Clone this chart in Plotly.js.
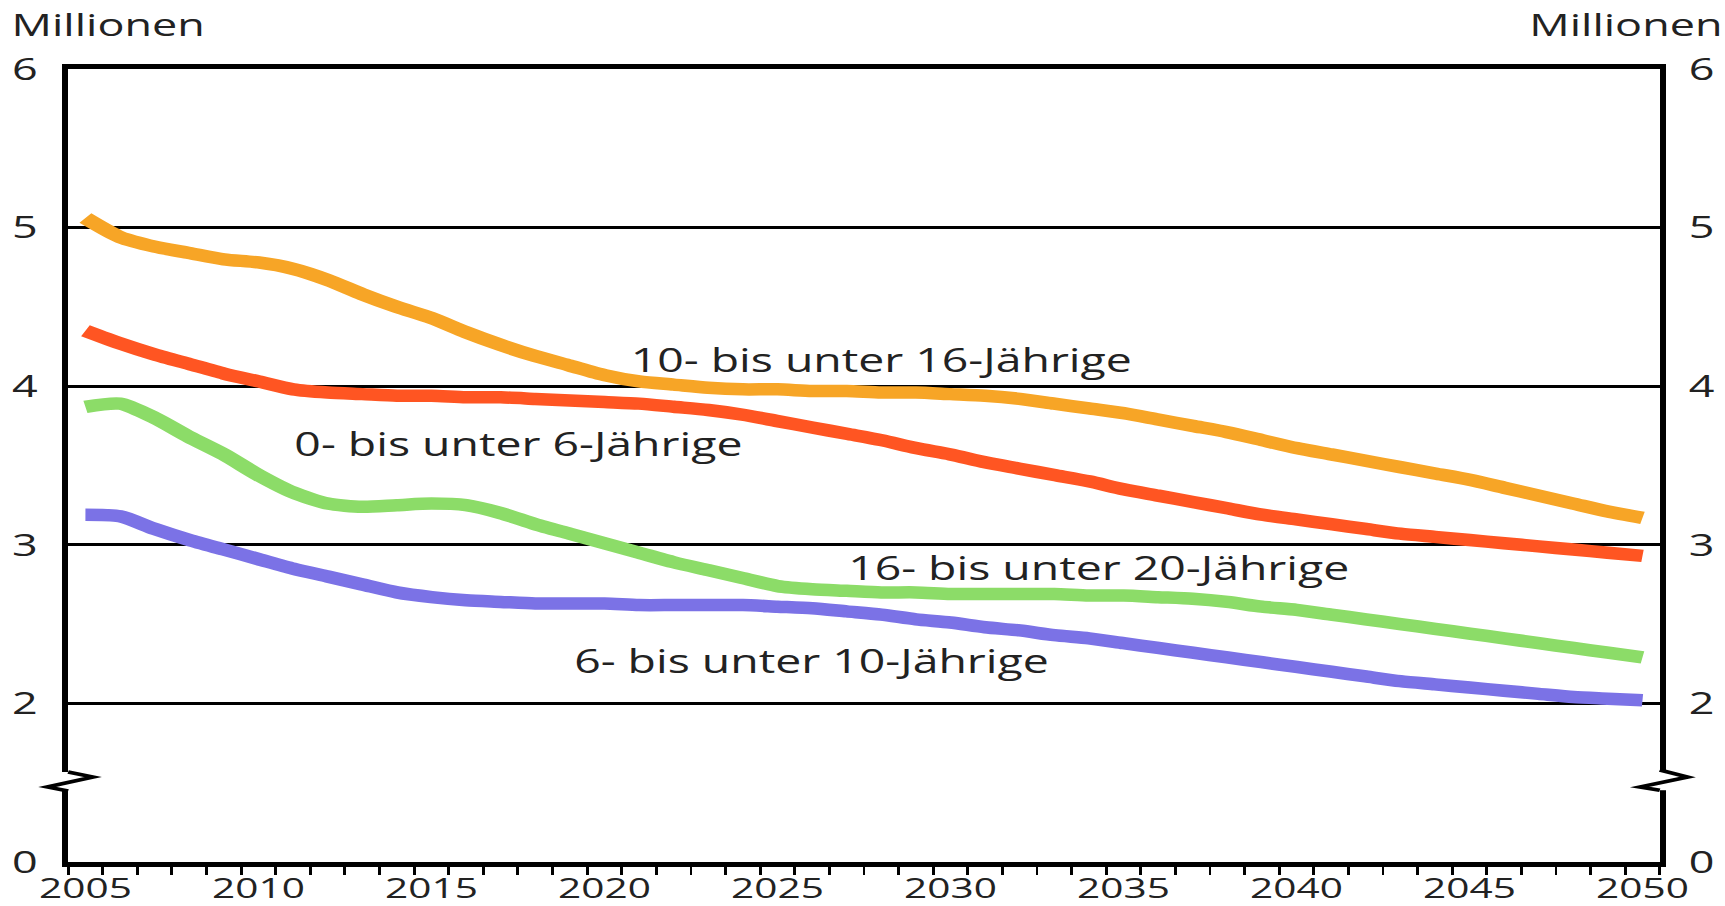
<!DOCTYPE html>
<html>
<head>
<meta charset="utf-8">
<script src="https://cdn.plot.ly/plotly-3.0.1.min.js"></script>
<style>
  html, body { margin: 0; padding: 0; background: #ffffff; overflow: hidden; }
  #chart { width: 1190px; height: 906px; transform: scaleX(1.4496); transform-origin: 0 0; }
</style>
</head>
<body>
<div id="chart"></div>
<script>
// ---- data (Millionen) ----
const years = [2005,2006,2007,2008,2009,2010,2011,2012,2013,2014,
               2015,2016,2017,2018,2019,2020,2021,2022,2023,2024,
               2025,2026,2027,2028,2029,2030,2031,2032,2033,2034,
               2035,2036,2037,2038,2039,2040,2041,2042,2043,2044,
               2045,2046,2047,2048,2049,2050];

const age10to16 = [5.06,4.94,4.88,4.84,4.80,4.78,4.74,4.67,4.58,4.50,
                   4.43,4.34,4.26,4.19,4.13,4.07,4.03,4.01,3.99,3.98,
                   3.98,3.97,3.97,3.96,3.96,3.95,3.94,3.92,3.89,3.86,
                   3.83,3.79,3.75,3.71,3.66,3.61,3.57,3.53,3.49,3.45,
                   3.41,3.36,3.31,3.26,3.21,3.17];

const age0to6 = [4.35,4.27,4.20,4.14,4.08,4.03,3.98,3.96,3.95,3.94,
                 3.94,3.93,3.93,3.92,3.91,3.90,3.89,3.87,3.85,3.82,
                 3.78,3.74,3.70,3.66,3.61,3.57,3.52,3.48,3.44,3.40,
                 3.35,3.31,3.27,3.23,3.19,3.16,3.13,3.10,3.07,3.05,
                 3.03,3.01,2.99,2.97,2.95,2.93];

const age16to20 = [3.87,3.89,3.80,3.68,3.57,3.44,3.33,3.26,3.24,3.25,
                   3.26,3.25,3.20,3.13,3.07,3.01,2.95,2.89,2.84,2.79,
                   2.74,2.72,2.71,2.70,2.70,2.69,2.69,2.69,2.69,2.68,
                   2.68,2.67,2.66,2.64,2.61,2.59,2.56,2.53,2.50,2.47,
                   2.44,2.41,2.38,2.35,2.32,2.29];

const age6to10 = [3.19,3.18,3.10,3.03,2.97,2.91,2.85,2.80,2.75,2.70,
                  2.67,2.65,2.64,2.63,2.63,2.63,2.62,2.62,2.62,2.62,
                  2.61,2.60,2.58,2.56,2.53,2.51,2.48,2.46,2.43,2.41,
                  2.38,2.35,2.32,2.29,2.26,2.23,2.20,2.17,2.14,2.12,
                  2.10,2.08,2.06,2.04,2.03,2.02];

const seriesNames = ['10- bis unter 16-Jährige','0- bis unter 6-Jährige',
                     '16- bis unter 20-Jährige','6- bis unter 10-Jährige'];
const seriesColors = ['#F7A526','#FF5522','#8CDC68','#7B72E6'];

const yTickValues = [0, 2, 3, 4, 5, 6];
const xTickYears = [2005,2010,2015,2020,2025,2030,2035,2040,2045,2050];
const unitLabel = 'Millionen';

// label anchor points (year, value) for the series labels
const labelYears  = [2028.0, 2017.5, 2034.3, 2026.0];
const labelValues = [4.17, 3.64, 2.86, 2.27];

// broken axis: 0..2 compressed into one unit
function brk(v) { return v >= 2 ? v - 1 : v * 0.5; }

const FONT = '"Open Sans", "Noto Sans", sans-serif';
const TXT = '#222222';

const allSeries = [age10to16, age0to6, age16to20, age6to10];
const traces = allSeries.map((vals, i) => ({
  type: 'scatter', mode: 'lines',
  x: years, y: vals.map(brk),
  name: seriesNames[i],
  yaxis: i === 3 ? 'y2' : 'y',
  line: { color: seriesColors[i], width: 12.5, shape: 'spline', smoothing: 0.7 },
  hoverinfo: 'x+name'
}));

const tickPos = yTickValues.map(brk);
const tickTxt = yTickValues.map(String);

const annotations = seriesNames.map((t, i) => ({
  x: labelYears[i], y: brk(labelValues[i]), xref: 'x', yref: 'y',
  text: t, showarrow: false, xanchor: 'center', yanchor: 'middle',
  font: { family: FONT, size: 32, color: TXT }
}));
annotations.push({
  x: -0.037, y: 1.057, xref: 'paper', yref: 'paper', text: unitLabel,
  showarrow: false, xanchor: 'left', yanchor: 'middle',
  font: { family: FONT, size: 31, color: TXT }
});
annotations.push({
  x: 1.041, y: 1.057, xref: 'paper', yref: 'paper', text: unitLabel,
  showarrow: false, xanchor: 'right', yanchor: 'middle',
  font: { family: FONT, size: 31, color: TXT }
});

// axis-break marks (paper coordinates)
const shapes = [
  { type: 'rect', xref: 'paper', yref: 'paper', x0: -0.005, x1: 0.005, y0: 0.0895, y1: 0.1135,
    fillcolor: '#ffffff', line: { width: 0 }, layer: 'above' },
  { type: 'rect', xref: 'paper', yref: 'paper', x0: 0.995, x1: 1.005, y0: 0.0905, y1: 0.116,
    fillcolor: '#ffffff', line: { width: 0 }, layer: 'above' },
  { type: 'path', xref: 'paper', yref: 'paper', layer: 'above',
    path: 'M 0,0.1135 L 0.0157,0.1072 L -0.0132,0.0946 L 0,0.0895',
    line: { color: '#000000', width: 3.5 } },
  { type: 'path', xref: 'paper', yref: 'paper', layer: 'above',
    path: 'M 1,0.116 L 1.0176,0.1072 L 0.9874,0.0946 L 1,0.0905',
    line: { color: '#000000', width: 3.5 } }
];

const layout = {
  width: 1190, height: 906,
  margin: { l: 47, r: 45, t: 69, b: 44, pad: 0 },
  paper_bgcolor: '#ffffff', plot_bgcolor: '#ffffff',
  showlegend: false,
  font: { family: FONT, size: 31, color: TXT },
  xaxis: {
    range: [2004.5, 2050.5], tickmode: 'array', tickvals: xTickYears,
    ticktext: xTickYears.map(String), ticks: '', ticklabelstandoff: -3,
    showgrid: false, zeroline: false,
    showline: true, linecolor: '#000000', linewidth: 5, mirror: true,
    tickfont: { family: FONT, size: 28, color: TXT },
    minor: { tick0: 2004.5, dtick: 1, ticks: 'outside', ticklen: 8, tickwidth: 2.2,
             tickcolor: '#000000', showgrid: false }
  },
  yaxis: {
    range: [0, 5], tickmode: 'array', tickvals: tickPos, ticktext: tickTxt,
    ticks: '', ticklabelstandoff: 11,
    showgrid: true, gridcolor: '#000000', gridwidth: 3, zeroline: false,
    showline: true, linecolor: '#000000', linewidth: 3.5, mirror: true,
    tickfont: { family: FONT, size: 31, color: TXT }
  },
  yaxis2: {
    range: [0, 5], overlaying: 'y', side: 'right', tickmode: 'array',
    tickvals: tickPos, ticktext: tickTxt, ticks: '', ticklabelstandoff: 19,
    showgrid: false, zeroline: false, showline: false,
    tickfont: { family: FONT, size: 31, color: TXT }
  },
  annotations: annotations,
  shapes: shapes
};

Plotly.newPlot('chart', traces, layout, { displayModeBar: false, responsive: false });
</script>
</body>
</html>
